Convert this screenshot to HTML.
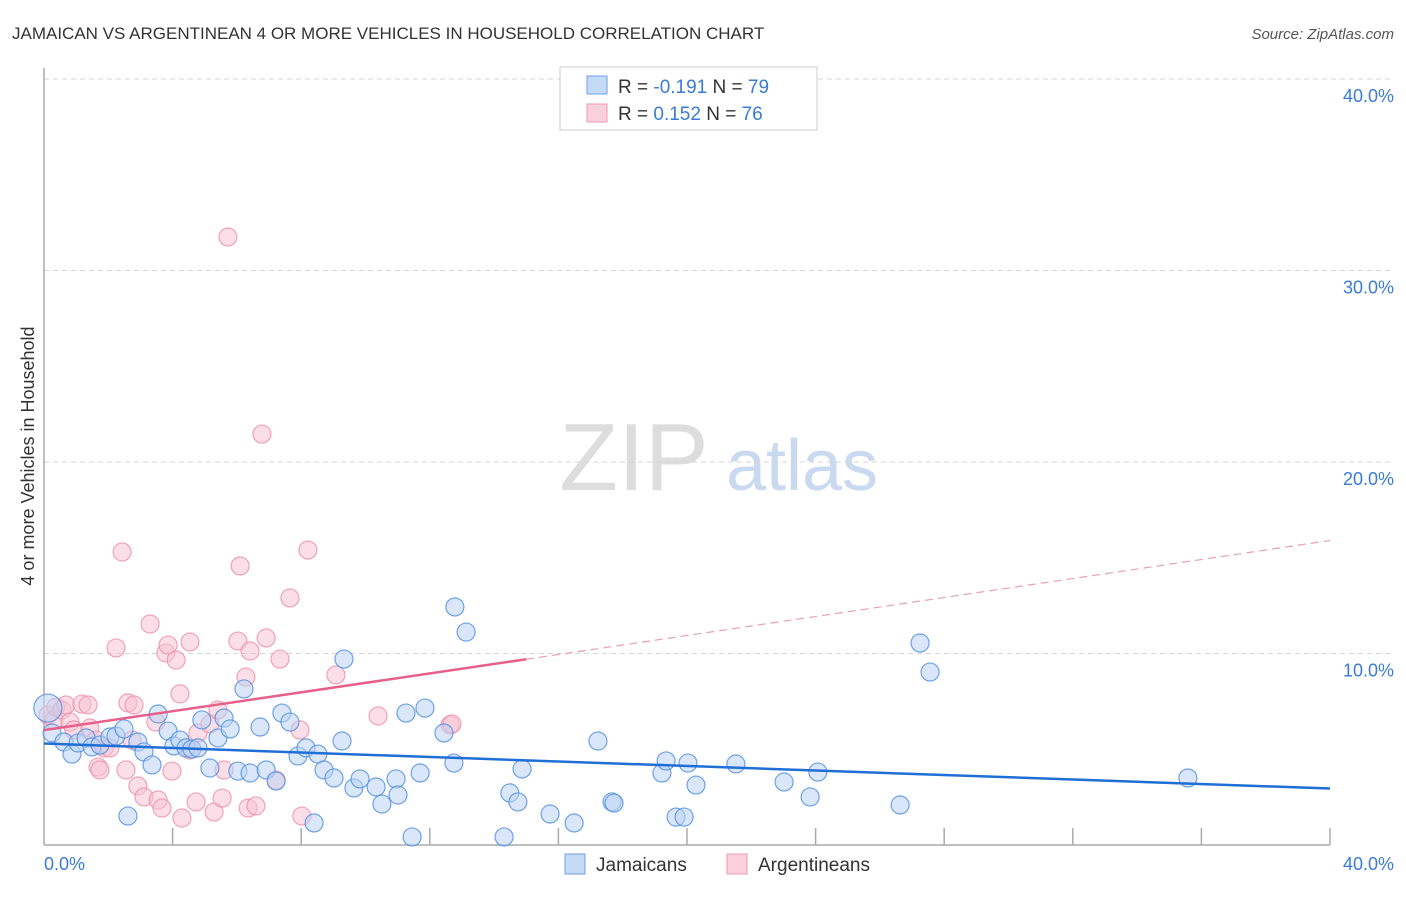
<!DOCTYPE html>
<html><head><meta charset="utf-8"><style>
body{margin:0;background:#fff;font-family:"Liberation Sans",sans-serif}
svg text{font-family:"Liberation Sans",sans-serif}
</style></head><body>
<svg width="1406" height="892" xmlns="http://www.w3.org/2000/svg">
<text x="12" y="39" font-size="17" fill="#333">JAMAICAN VS ARGENTINEAN 4 OR MORE VEHICLES IN HOUSEHOLD CORRELATION CHART</text>
<text x="1394" y="39" font-size="15" fill="#555" font-style="italic" text-anchor="end">Source: ZipAtlas.com</text>
<g>
<text x="634" y="490" font-size="96" fill="#ddd" font-family="Liberation Serif" text-anchor="middle">ZIP</text>
<text x="802" y="490" font-size="72" fill="#c9d9f0" text-anchor="middle">atlas</text>
</g>
<g id="grid"></g>
<g id="axes"></g>
<g id="pts"></g>
<g id="lines"></g>
<text transform="translate(34,456) rotate(-90)" font-size="18" fill="#333" text-anchor="middle">4 or more Vehicles in Household</text>
<text x="44" y="870" font-size="18" fill="#3a7bd5">0.0%</text>
<text x="1394" y="870" font-size="18" fill="#3a7bd5" text-anchor="end">40.0%</text>
<g>
<rect x="560" y="67" width="257" height="63" fill="#fff" stroke="#ccc"/>
<rect x="587" y="76" width="20" height="18" fill="#c5daf7" stroke="#6fa0e6"/>
<rect x="587" y="104" width="20" height="18" fill="#fbd0dd" stroke="#ef9ab4"/>
<text x="618" y="93" font-size="19" fill="#333">R = <tspan fill="#3a7bd5">-0.191</tspan>   N = <tspan fill="#3a7bd5">79</tspan></text>
<text x="618" y="120" font-size="19" fill="#333">R =  <tspan fill="#3a7bd5">0.152</tspan>   N = <tspan fill="#3a7bd5">76</tspan></text>
</g>
<g>
<rect x="565" y="854" width="20" height="20" fill="#c5daf7" stroke="#6fa0e6"/>
<text x="596" y="871" font-size="19" fill="#333">Jamaicans</text>
<rect x="727" y="854" width="20" height="20" fill="#fbd0dd" stroke="#ef9ab4"/>
<text x="758" y="871" font-size="19" fill="#333">Argentineans</text>
</g>
</svg>
<script>
const yTicks=[10,20,30,40];
const yTickLabels=["10.0%","20.0%","30.0%","40.0%"];
const xTicks=[4,8,12,16,20,24,28,32,36,40];
const bluePx=[[48,708],[52,733],[64,742],[72,754],[78,743],[86,738],[92,747],[100,745],[110,737],[116,736],[124,729],[128,816],[138,742],[144,752],[152,765],[158,714],[168,731],[174,746],[180,740],[186,748],[192,749],[198,748],[202,720],[210,768],[218,738],[224,718],[230,729],[238,771],[244,689],[250,773],[260,727],[266,770],[276,781],[282,713],[290,722],[298,756],[306,748],[314,823],[318,754],[324,770],[334,778],[344,659],[342,741],[354,788],[360,779],[376,787],[382,804],[396,779],[398,795],[406,713],[412,837],[420,773],[425,708],[444,733],[454,763],[455,607],[466,632],[504,837],[510,793],[518,802],[522,769],[550,814],[574,823],[598,741],[612,802],[614,803],[662,773],[666,761],[676,817],[684,817],[688,763],[696,785],[736,764],[784,782],[810,797],[818,772],[900,805],[920,643],[930,672],[1188,778]];
const pinkPx=[[48,715],[54,720],[56,707],[62,710],[66,705],[70,722],[74,730],[82,704],[88,705],[90,728],[96,740],[98,767],[100,770],[104,748],[110,748],[116,648],[122,552],[126,770],[128,703],[132,740],[134,705],[138,786],[144,797],[150,624],[156,722],[158,800],[162,808],[166,653],[168,645],[172,771],[176,660],[180,694],[182,818],[190,642],[190,750],[196,802],[198,733],[210,724],[214,812],[218,710],[222,798],[224,770],[228,237],[238,641],[240,566],[246,677],[248,808],[250,651],[256,806],[262,434],[266,638],[276,780],[280,659],[290,598],[300,730],[302,816],[308,550],[336,675],[378,716],[450,725],[452,724]];
// data values (percent) derived from reading the chart
const blueX=bluePx.map(p=>+((p[0]-44)/32.15).toFixed(2));
const blueY=bluePx.map(p=>+((845-p[1])/19.15).toFixed(2));
const pinkX=pinkPx.map(p=>+((p[0]-44)/32.15).toFixed(2));
const pinkY=pinkPx.map(p=>+((845-p[1])/19.15).toFixed(2));
const blueTrend=[[0,5.3],[40,2.95]];
const pinkTrend=[[0,6.0],[15,9.7],[40,15.9]];
const X=v=>44+v*32.15, Y=v=>845-v*19.15;
const NS="http://www.w3.org/2000/svg";
function mk(t,a,parent){const e=document.createElementNS(NS,t);for(const k in a)e.setAttribute(k,a[k]);parent.appendChild(e);return e;}
const grid=document.getElementById('grid'),axes=document.getElementById('axes'),pts=document.getElementById('pts'),lines=document.getElementById('lines');
yTicks.forEach((t,i)=>{
 const l=mk('line',{x1:44,x2:1394,y1:Y(t),y2:Y(t),stroke:'#d5d5d5','stroke-dasharray':'5,4'},grid);
 
 
 const tx=mk('text',{x:1394,y:Y(t)+23,'font-size':18,fill:'#3a7bd5','text-anchor':'end'},grid);
 tx.textContent=yTickLabels[i];
 
 
});
const ya=mk('line',{x1:44,x2:44,y1:68,y2:845,stroke:'#aaa','stroke-width':1.5},axes);


const xa=mk('line',{x1:44,x2:1330,y1:845,y2:845,stroke:'#aaa','stroke-width':1.5},axes);


xTicks.forEach(t=>{
 const l=mk('line',{x1:X(t),x2:X(t),y1:828,y2:845,stroke:'#aaa','stroke-width':1.5},axes);
 
 
});
function dots(xs,ys,fill,stroke,name){
 xs.forEach((x,i)=>{
  const c=mk('circle',{cx:X(x),cy:Y(ys[i]),r:i===0&&name==='jamaican-point'?14:9,fill:fill,'fill-opacity':0.55,stroke:stroke,'stroke-width':1.2,'stroke-opacity':0.8},pts);
  
  
 });
}
dots(pinkX,pinkY,'#f8c3d3','#ec8eaa','argentinean-point');
dots(blueX,blueY,'#bcd4f5','#4d8ce0','jamaican-point');
const bl=mk('line',{x1:X(blueTrend[0][0]),y1:Y(blueTrend[0][1]),x2:X(blueTrend[1][0]),y2:Y(blueTrend[1][1]),stroke:'#1f6fd6','stroke-width':2.5},lines);


const pl=mk('line',{x1:X(pinkTrend[0][0]),y1:Y(pinkTrend[0][1]),x2:X(pinkTrend[1][0]),y2:Y(pinkTrend[1][1]),stroke:'#e8608a','stroke-width':2.5},lines);


const pd=mk('line',{x1:X(pinkTrend[1][0]),y1:Y(pinkTrend[1][1]),x2:X(pinkTrend[2][0]),y2:Y(pinkTrend[2][1]),stroke:'#e8a0b6','stroke-width':1.2,'stroke-dasharray':'8,5'},lines);


</script>
</body></html>
